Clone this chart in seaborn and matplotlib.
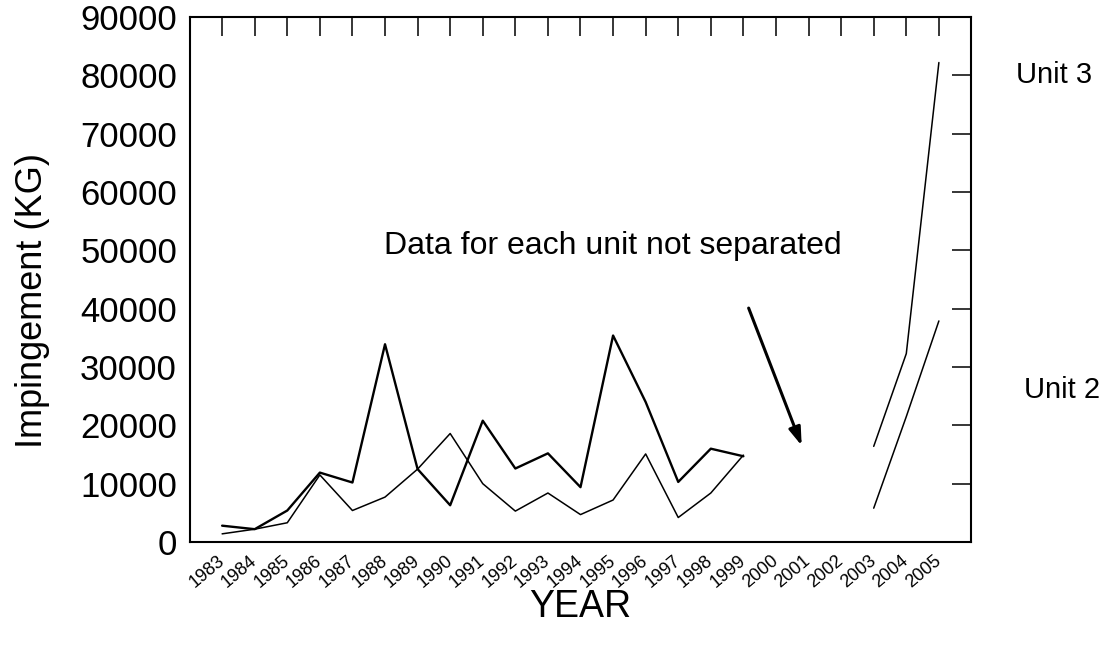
import numpy as np
import pandas as pd
import matplotlib
matplotlib.use("Agg")
import matplotlib.pyplot as plt
import seaborn as sns

# ---- data ----
years_early = [1983, 1984, 1985, 1986, 1987, 1988, 1989, 1990, 1991, 1992,
               1993, 1994, 1995, 1996, 1997, 1998, 1999]
combined_thick = [2800, 2200, 5400, 11900, 10200, 33900, 12500, 6300, 20800,
                  12600, 15200, 9400, 35400, 24000, 10300, 16000, 14700]
combined_thin = [1400, 2200, 3300, 11500, 5400, 7700, 12500, 18600, 10000,
                 5300, 8400, 4700, 7200, 15100, 4200, 8400, 14900]
years_late = [2003, 2004, 2005]
unit3_late = [16400, 32300, 82200]
unit2_late = [5800, 21500, 37900]

year_ticks = list(range(1983, 2006))
year_labels = [str(y) for y in year_ticks]
y_ticks = list(range(0, 90001, 10000))

sns.set_theme(style="white")
plt.rcParams["font.family"] = ["Liberation Sans", "DejaVu Sans"]

fig = plt.figure(figsize=(11.11, 6.55), dpi=100)
ax = fig.add_axes([0.1706, 0.1725, 0.7038, 0.8015])

df_a = pd.DataFrame({"year": years_early, "kg": combined_thick})
df_b = pd.DataFrame({"year": years_early, "kg": combined_thin})
df_u3 = pd.DataFrame({"year": years_late, "kg": unit3_late})
df_u2 = pd.DataFrame({"year": years_late, "kg": unit2_late})

sns.lineplot(data=df_a, x="year", y="kg", ax=ax, color="black", lw=1.7)
sns.lineplot(data=df_b, x="year", y="kg", ax=ax, color="black", lw=1.1)
sns.lineplot(data=df_u3, x="year", y="kg", ax=ax, color="black", lw=1.1)
sns.lineplot(data=df_u2, x="year", y="kg", ax=ax, color="black", lw=1.1)

ax.set_xlim(1982, 2006)
ax.set_ylim(0, 90000)
ax.set_xticks(year_ticks)
ax.set_xticklabels(year_labels)
ax.set_yticks(y_ticks)
ax.set_yticklabels([str(v) for v in y_ticks])

for s in ax.spines.values():
    s.set_color("black")
    s.set_linewidth(1.5)

ax.tick_params(axis="both", direction="in", length=14, width=1.1,
               color="black", labelcolor="black", top=True, right=True)
ax.tick_params(axis="y", labelsize=25, pad=9)
ax.tick_params(axis="x", labelsize=13, pad=12)
plt.setp(ax.get_xticklabels(), rotation=40, ha="right", va="center",
         rotation_mode="anchor")

ax.set_xlabel("YEAR", fontsize=27, color="black")
ax.xaxis.set_label_coords(0.5, -0.09)
ax.set_ylabel("Impingement (KG)", fontsize=26, color="black")
ax.yaxis.set_label_coords(-0.178, 0.46)

ax.text(1995.0, 50800, "Data for each unit not separated", fontsize=23,
        ha="center", va="center", color="black")
ax.annotate("", xy=(2000.82, 16080), xytext=(1999.13, 40550),
            arrowprops=dict(arrowstyle="-|>,head_length=0.9,head_width=0.3",
                            color="black", lw=2.2))

fig.text(1054 / 1111, 1 - 75 / 655, "Unit 3", fontsize=21, ha="center",
         va="center", color="black")
fig.text(1062 / 1111, 1 - 390 / 655, "Unit 2", fontsize=21, ha="center",
         va="center", color="black")

fig.savefig("out.png", dpi=100)
